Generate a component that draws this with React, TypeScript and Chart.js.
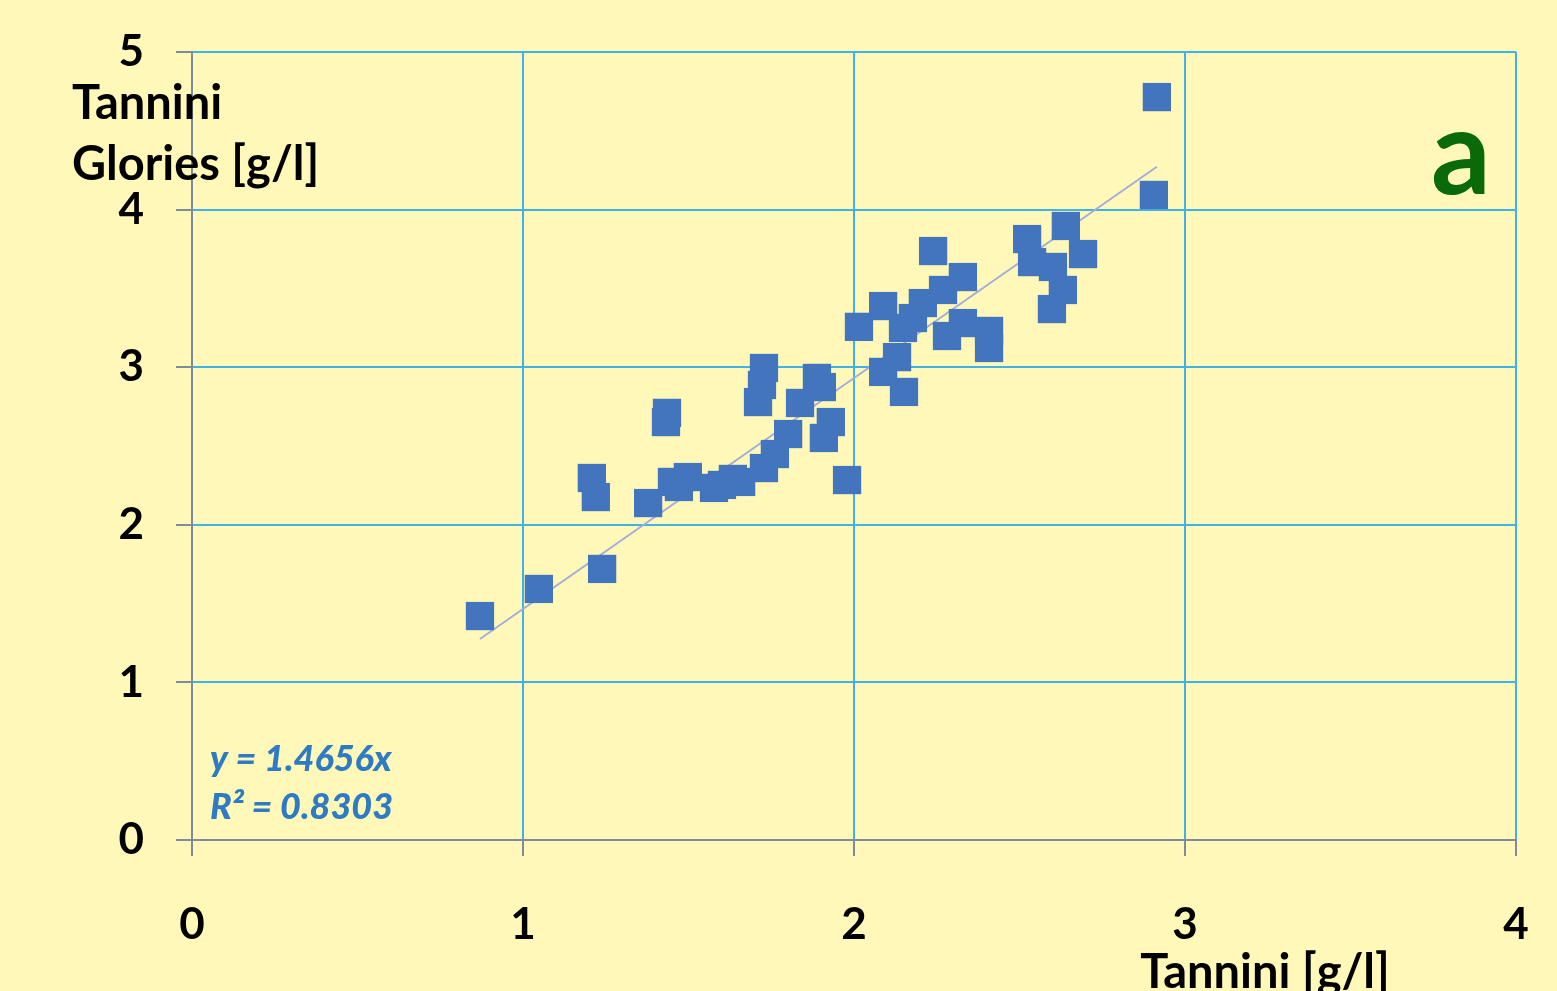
import React, { useEffect, useRef } from 'react';
import { Chart, registerables } from 'chart.js';

Chart.register(...registerables);

// Measured points: Tannini [g/l] (x) vs Tannini Glories [g/l] (y)
const xValues = [
  0.87, 1.048, 1.239, 1.208, 1.22, 1.378, 1.435, 1.432, 1.45, 1.471, 1.498,
  1.577, 1.601, 1.634, 1.659, 1.728, 1.761, 1.801, 1.728, 1.722, 1.71, 1.837,
  1.888, 1.903, 1.93, 1.909, 1.979, 2.015, 2.088, 2.088, 2.13, 2.151, 2.148,
  2.178, 2.208, 2.239, 2.269, 2.281, 2.329, 2.329, 2.408, 2.408, 2.523, 2.538,
  2.601, 2.631, 2.598, 2.64, 2.692, 2.906, 2.915,
];
const yValues = [
  1.421, 1.593, 1.72, 2.297, 2.176, 2.138, 2.71, 2.652, 2.272, 2.24, 2.303,
  2.234, 2.253, 2.291, 2.272, 2.36, 2.449, 2.576, 2.995, 2.887, 2.779, 2.773,
  2.932, 2.874, 2.652, 2.551, 2.284, 3.256, 3.388, 2.97, 3.064, 2.843, 3.249,
  3.312, 3.407, 3.737, 3.49, 3.198, 3.572, 3.28, 3.23, 3.122, 3.813, 3.667,
  3.636, 3.49, 3.369, 3.896, 3.718, 4.093, 4.714,
];

const xTicks = [0, 1, 2, 3, 4];
const yTicks = [0, 1, 2, 3, 4, 5];

// Trendline shown in the chart: y = 1.4656x, drawn across the data range
const trendSlope = 1.4656;
const trendXRange = [0.87, 2.915];
const equationLines = ['y = 1.4656x', 'R² = 0.8303'];
const yTitleLines = ['Tannini', 'Glories [g/l]'];
const xTitle = 'Tannini [g/l]';
const panelLabel = 'a';

const FONT = 'Lato, "Open Sans", sans-serif';

export default function App() {
  const canvasRef = useRef<HTMLCanvasElement | null>(null);

  useEffect(() => {
    document.body.style.margin = '0';
    const canvas = canvasRef.current;
    if (!canvas) return;

    const bgPlugin = {
      id: 'bg',
      beforeDraw(chart: any) {
        const ctx = chart.ctx;
        ctx.save();
        ctx.fillStyle = '#FFF8B9';
        ctx.fillRect(0, 0, chart.width, chart.height);
        ctx.restore();
      },
    };

    const textPlugin = {
      id: 'texts',
      afterDraw(chart: any) {
        const ctx = chart.ctx;
        ctx.save();
        // Y axis title
        ctx.fillStyle = '#000';
        ctx.font = `bold 47px ${FONT}`;
        ctx.textAlign = 'left';
        ctx.textBaseline = 'alphabetic';
        ctx.fillText(yTitleLines[0], 72, 119);
        ctx.fillText(yTitleLines[1], 72, 180);
        // X axis title
        ctx.textAlign = 'center';
        ctx.fillText(xTitle, 1265, 988);
        // Panel label
        ctx.fillStyle = '#0A6A0A';
        ctx.font = `bold 118px ${FONT}`;
        ctx.textAlign = 'center';
        ctx.fillText(panelLabel, 1461, 194);
        // Equation
        ctx.fillStyle = '#2E7BC4';
        ctx.font = `italic 900 36px ${FONT}`;
        ctx.textAlign = 'left';
        ctx.fillText(equationLines[0], 210, 771);
        ctx.fillText(equationLines[1], 210, 819);
        ctx.restore();
      },
    };

    const points = xValues.map((x, i) => ({ x, y: yValues[i] }));
    const trend = trendXRange.map((x) => ({ x, y: trendSlope * x }));

    const chart = new Chart(canvas, {
      type: 'scatter',
      data: {
        datasets: [
          {
            type: 'line',
            data: trend,
            borderColor: '#A3AED6',
            borderWidth: 2,
            pointRadius: 0,
            fill: false,
            order: 2,
          } as any,
          {
            data: points,
            pointStyle: 'rect',
            pointRadius: 20,
            pointHoverRadius: 20,
            backgroundColor: '#4275BE',
            borderColor: '#4275BE',
            borderWidth: 0,
            order: 1,
          },
        ],
      },
      options: {
        responsive: false,
        animation: false,
        events: [],
        layout: { autoPadding: false, padding: { left: 0, right: 41, top: 52, bottom: 0 } },
        plugins: {
          legend: { display: false },
          tooltip: { enabled: false },
          title: { display: false },
        },
        scales: {
          x: {
            type: 'linear',
            min: xTicks[0],
            max: xTicks[xTicks.length - 1],
            afterBuildTicks: (scale: any) => {
              scale.ticks = xTicks.map((v) => ({ value: v }));
            },
            afterFit: (scale: any) => {
              scale.height = 151;
              scale.paddingLeft = 0;
              scale.paddingRight = 0;
            },
            grid: {
              color: '#3FB2EA',
              lineWidth: 2,
              tickColor: '#7F8A9C',
              tickLength: 16,
              drawTicks: true,
            },
            border: { color: '#7F8A9C', width: 2 },
            ticks: {
              color: '#000',
              font: { family: FONT, size: 44, weight: 'bold' },
              padding: 42,
              maxRotation: 0,
              callback: (v: any) => String(v),
            },
          },
          y: {
            type: 'linear',
            min: yTicks[0],
            max: yTicks[yTicks.length - 1],
            afterBuildTicks: (scale: any) => {
              scale.ticks = yTicks.map((v) => ({ value: v }));
            },
            afterFit: (scale: any) => {
              scale.width = 192;
              scale.paddingTop = 0;
              scale.paddingBottom = 0;
            },
            grid: {
              color: '#3FB2EA',
              lineWidth: 2,
              tickColor: '#7F8A9C',
              tickLength: 16,
              drawTicks: true,
            },
            border: { color: '#7F8A9C', width: 2 },
            ticks: {
              color: '#000',
              font: { family: FONT, size: 44, weight: 'bold' },
              padding: 32,
              callback: (v: any) => String(v),
            },
          },
        },
      },
      plugins: [bgPlugin, textPlugin],
    });

    return () => {
      chart.destroy();
    };
  }, []);

  return (
    <div style={{ width: 1557, height: 991 }}>
      <canvas ref={canvasRef} width={1557} height={991} style={{ display: 'block' }} />
    </div>
  );
}
